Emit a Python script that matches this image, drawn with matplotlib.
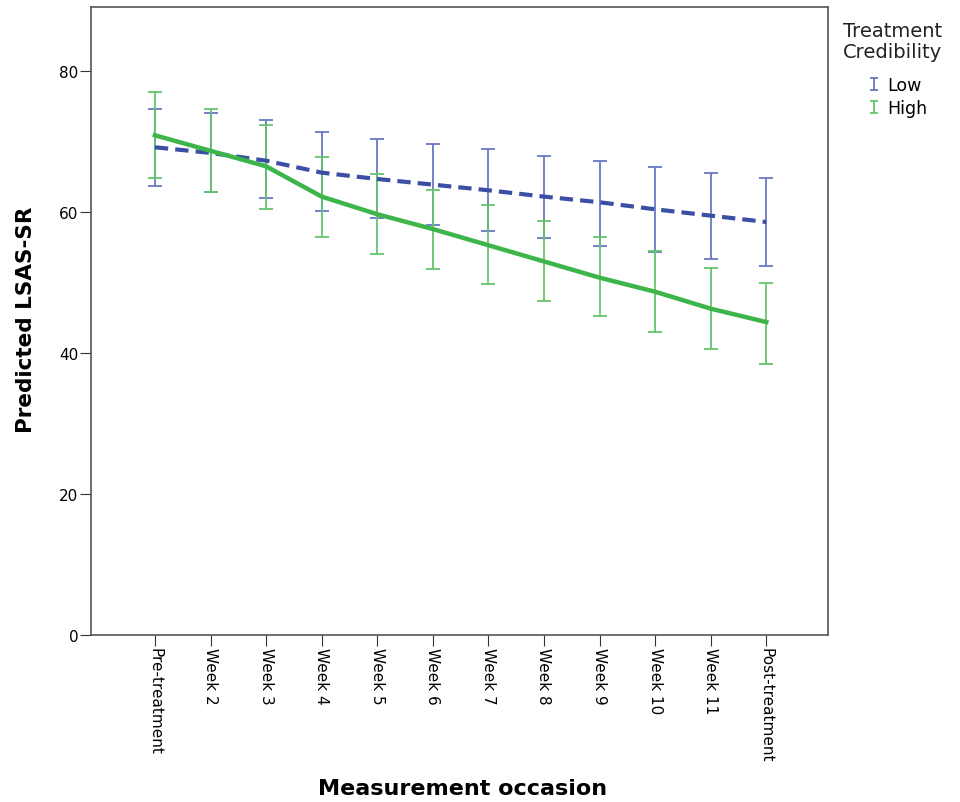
import numpy as np
import matplotlib
matplotlib.use("Agg")
import matplotlib.pyplot as plt
from matplotlib.legend_handler import HandlerErrorbar

occasions = ["Pre-treatment", "Week 2", "Week 3", "Week 4", "Week 5", "Week 6",
             "Week 7", "Week 8", "Week 9", "Week 10", "Week 11", "Post-treatment"]

# Low treatment credibility
low_mean = [69.2, 68.4, 67.3, 65.6, 64.7, 63.9, 63.1, 62.2, 61.4, 60.4, 59.5, 58.6]
low_upper = [74.7, 74.0, 73.0, 71.4, 70.4, 69.6, 68.9, 68.0, 67.2, 66.4, 65.6, 64.8]
low_lower = [63.7, 62.9, 62.0, 60.2, 59.1, 58.2, 57.3, 56.3, 55.2, 54.4, 53.3, 52.3]

# High treatment credibility
high_mean = [70.9, 68.7, 66.5, 62.2, 59.7, 57.6, 55.3, 53.0, 50.7, 48.7, 46.3, 44.4]
high_upper = [77.0, 74.7, 72.3, 67.8, 65.4, 63.2, 61.0, 58.7, 56.5, 54.5, 52.1, 50.0]
high_lower = [64.9, 62.9, 60.5, 56.5, 54.0, 51.9, 49.8, 47.4, 45.3, 43.0, 40.6, 38.4]

blue_line = "#3b4fa4"
blue_bar = "#6878c4"
green_line = "#3db54a"
green_bar = "#64c46e"

fig = plt.figure(figsize=(9.6, 8.03), dpi=100)
ax = fig.add_axes([0.0948, 0.208, 0.7677, 0.782])

x = np.arange(len(occasions))

def draw(mean, lower, upper, bar_col, line_col, ls, lw, label):
    mean = np.array(mean)
    yerr = [mean - np.array(lower), np.array(upper) - mean]
    ax.errorbar(x, mean, yerr=yerr, fmt="none", ecolor=bar_col,
                elinewidth=1.3, capsize=4.8, capthick=1.3, zorder=2)
    ax.plot(x, mean, color=line_col, linestyle=ls, linewidth=lw, zorder=3)
    # small proxy for the legend
    return ax.errorbar([np.nan], [np.nan], yerr=[1], fmt="none", ecolor=bar_col,
                       elinewidth=1.3, capsize=3.2, capthick=1.3, label=label)

h_low = draw(low_mean, low_lower, low_upper, blue_bar, blue_line, (0, (3.2, 1.7)), 3.0, "Low")
h_high = draw(high_mean, high_lower, high_upper, green_bar, green_line, "-", 3.2, "High")

ax.set_xlim(-1.15, 12.11)
ax.set_ylim(0, 89.1)
ax.set_yticks([0, 20, 40, 60, 80])
ax.set_xticks(x)
ax.set_xticklabels(occasions, rotation=270, va="top", ha="center", fontsize=11)
ax.tick_params(axis="y", labelsize=11, direction="out", length=8, pad=1, color="#333333")
ax.tick_params(axis="x", direction="out", length=8, pad=1, color="#333333")
for s in ax.spines.values():
    s.set_color("#555555")
    s.set_linewidth(1.2)

ax.set_ylabel("Predicted LSAS-SR", fontsize=15.5, fontweight="bold")
ax.yaxis.set_label_coords(-0.074, 0.503)
ax.set_xlabel("Measurement occasion", fontsize=16, fontweight="bold")
ax.xaxis.set_label_coords(0.504, -0.228)

fig.text(0.878, 0.948, "Treatment\nCredibility", fontsize=14, ha="left", va="center",
         linespacing=1.15, color="#222222")
fig.legend(handles=[h_low, h_high], loc="upper left", bbox_to_anchor=(0.905, 0.904),
           frameon=False, fontsize=12.5, handlelength=0.6, handletextpad=0.45,
           borderpad=0, borderaxespad=0, labelspacing=0.3,
           handler_map={type(h_low): HandlerErrorbar(yerr_size=0.36)})

fig.savefig("out.png", dpi=100)
